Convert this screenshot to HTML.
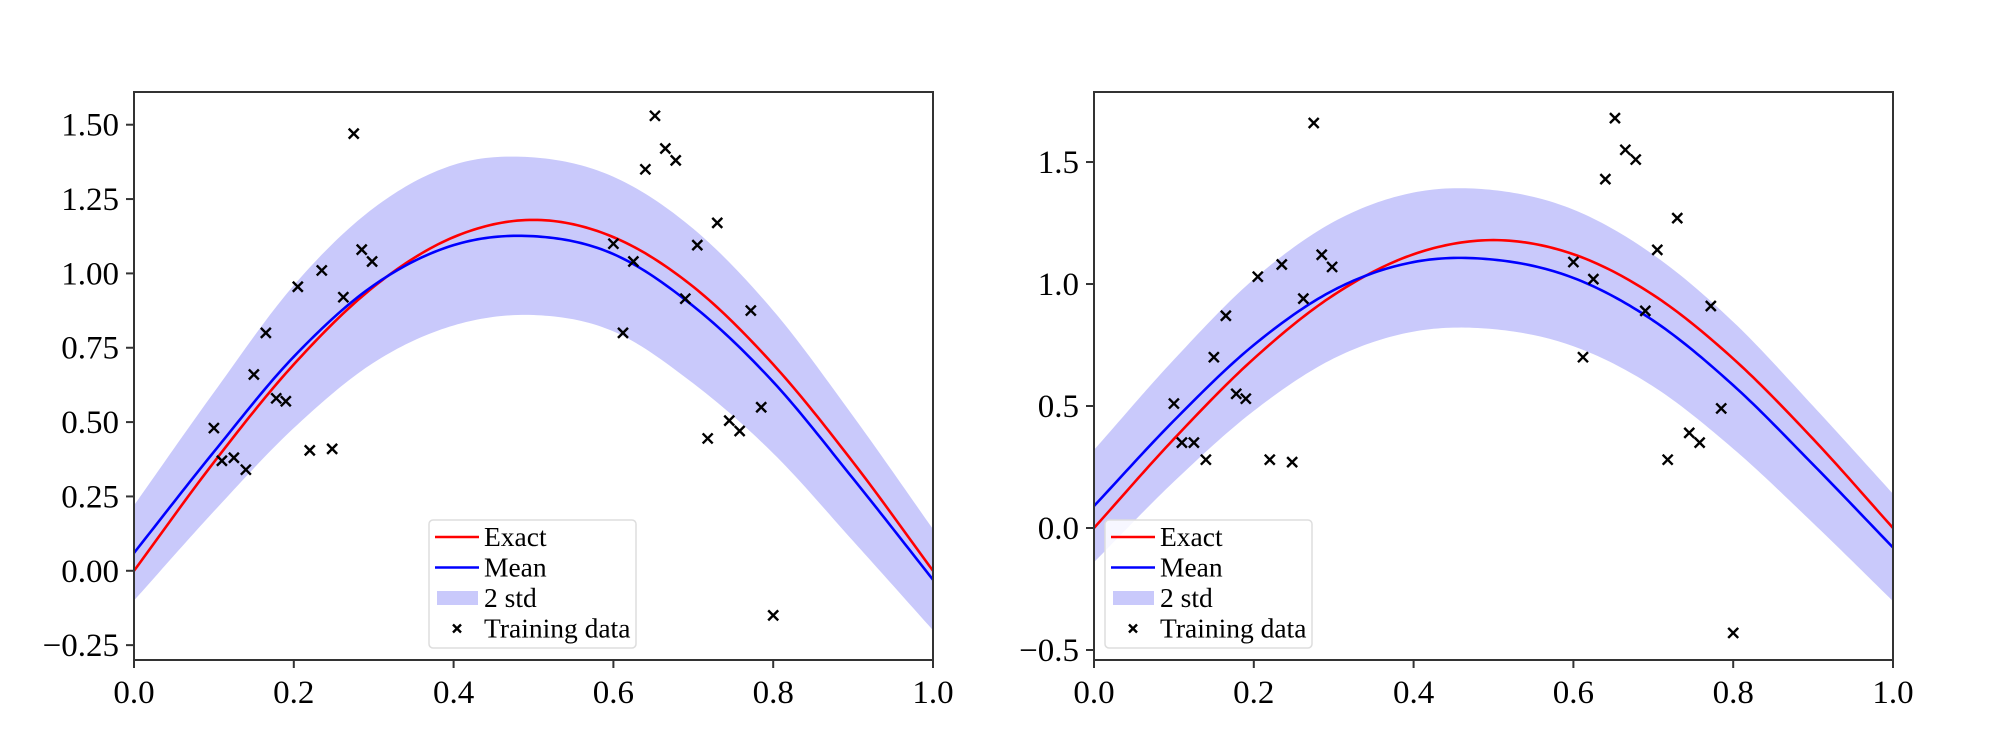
<!DOCTYPE html>
<html><head><meta charset="utf-8">
<style>
html,body{margin:0;padding:0;background:#fff;}
svg{display:block;}
text{font-family:"Liberation Serif","DejaVu Serif",serif;fill:#000;}
</style></head>
<body>
<svg id="chart" width="2000" height="742" viewBox="0 0 2000 742" xmlns="http://www.w3.org/2000/svg"></svg>
<script>
const gridX = [0,0.1,0.2,0.3,0.4,0.5,0.6,0.7,0.8,0.9,1.0];
const exactY = [0,0.365,0.694,0.955,1.122,1.18,1.122,0.955,0.694,0.365,0];
const leftMean = [0.06,0.40,0.72,0.96,1.095,1.125,1.065,0.89,0.635,0.31,-0.03];
const leftStd2 = [0.16,0.20,0.24,0.26,0.27,0.265,0.26,0.26,0.24,0.21,0.17];
const rightMean = [0.09,0.44,0.75,0.975,1.09,1.10,1.025,0.85,0.585,0.26,-0.08];
const rightStd2 = [0.23,0.25,0.27,0.28,0.285,0.285,0.28,0.27,0.26,0.24,0.22];
const trainX = [0.1,0.11,0.125,0.14,0.15,0.165,0.178,0.19,0.205,0.22,0.235,0.248,0.262,0.275,0.285,0.298,0.6,0.612,0.625,0.64,0.652,0.665,0.678,0.69,0.705,0.718,0.73,0.745,0.758,0.772,0.785,0.8];
const leftTrainY = [0.48,0.37,0.38,0.34,0.66,0.80,0.58,0.57,0.955,0.405,1.01,0.41,0.92,1.47,1.08,1.04,1.10,0.80,1.04,1.35,1.53,1.42,1.38,0.915,1.095,0.445,1.17,0.505,0.47,0.875,0.55,-0.15];
const rightTrainY = [0.51,0.35,0.35,0.28,0.70,0.87,0.55,0.53,1.03,0.28,1.08,0.27,0.94,1.66,1.12,1.07,1.09,0.70,1.02,1.43,1.68,1.55,1.51,0.89,1.14,0.28,1.27,0.39,0.35,0.91,0.49,-0.43];
const xTicks = [0,0.2,0.4,0.6,0.8,1.0];
const xTickLabels = ["0.0","0.2","0.4","0.6","0.8","1.0"];
const leftYTicks = [-0.25,0,0.25,0.5,0.75,1.0,1.25,1.5];
const leftYTickLabels = ["\u22120.25","0.00","0.25","0.50","0.75","1.00","1.25","1.50"];
const rightYTicks = [-0.5,0,0.5,1.0,1.5];
const rightYTickLabels = ["\u22120.5","0.0","0.5","1.0","1.5"];

const NS = "http://www.w3.org/2000/svg";
const svg = document.getElementById('chart');
function mk(tag, attrs, parent){
  const e = document.createElementNS(NS, tag);
  for (const k in attrs) e.setAttribute(k, attrs[k]);
  (parent||svg).appendChild(e);
  return e;
}
function interp(xs, ys, x){
  let i = Math.min(xs.length-2, Math.max(0, Math.floor((x - xs[0])/(xs[1]-xs[0]))));
  const t = (x - xs[i])/(xs[i+1]-xs[i]);
  const p0 = ys[Math.max(0,i-1)], p1 = ys[i], p2 = ys[i+1], p3 = ys[Math.min(ys.length-1,i+2)];
  const m1 = (p2 - p0)/ (i===0?1:2), m2 = (p3 - p1)/(i+1===ys.length-1?1:2);
  const t2=t*t, t3=t2*t;
  return (2*t3-3*t2+1)*p1 + (t3-2*t2+t)*m1 + (-2*t3+3*t2)*p2 + (t3-t2)*m2;
}
function panel(name, L, R, T, B, yMin, yMax, mean, std2, trainY, yTicks, yLabels, legX){
  const g = mk('g', {});
  
  
  const sx = v => L + (v-0)/(1-0)*(R-L);
  const sy = v => B - (v-yMin)/(yMax-yMin)*(B-T);
  const N = 200;
  let up=[], lo=[], ex=[], mn=[];
  for (let k=0;k<=N;k++){
    const x = k/N;
    const m = interp(gridX, mean, x), s = interp(gridX, std2, x);
    up.push(sx(x)+','+sy(m+s)); lo.push(sx(x)+','+sy(m-s));
    ex.push(sx(x)+','+sy(interp(gridX, exactY, x)));
    mn.push(sx(x)+','+sy(m));
  }
  const clip = mk('clipPath', {id: name+'-clip'}, g);
  mk('rect', {x:L, y:T, width:R-L, height:B-T}, clip);
  const band = mk('polygon', {points: up.concat(lo.reverse()).join(' '), fill:'#c9c9fb', 'clip-path':'url(#'+name+'-clip)'}, g);
  
  
  const el = mk('polyline', {points: ex.join(' '), fill:'none', stroke:'#ff0000', 'stroke-width':2.6}, g);
  
  
  const ml = mk('polyline', {points: mn.join(' '), fill:'none', stroke:'#0000ff', 'stroke-width':2.6}, g);
  
  
  for (let i=0;i<trainX.length;i++){
    const cx = sx(trainX[i]), cy = sy(trainY[i]), d=5;
    const p = mk('path', {d:`M${cx-d},${cy-d}L${cx+d},${cy+d}M${cx-d},${cy+d}L${cx+d},${cy-d}`, stroke:'#000', 'stroke-width':2.4}, g);
    
    
  }
  const frame = mk('rect', {x:L, y:T, width:R-L, height:B-T, fill:'none', stroke:'#333', 'stroke-width':2}, g);
  
  
  for (let i=0;i<xTicks.length;i++){
    const x = sx(xTicks[i]);
    mk('line', {x1:x, x2:x, y1:B, y2:B+8, stroke:'#333', 'stroke-width':2}, g);
    const t = mk('text', {x:x, y:B+43, 'font-size':33, 'text-anchor':'middle'}, g);
    t.textContent = xTickLabels[i];
    
    
  }
  for (let i=0;i<yTicks.length;i++){
    const y = sy(yTicks[i]);
    mk('line', {x1:L-8, x2:L, y1:y, y2:y, stroke:'#333', 'stroke-width':2}, g);
    const t = mk('text', {x:L-15, y:y+11, 'font-size':33, 'text-anchor':'end'}, g);
    t.textContent = yLabels[i];
    
    
  }
  const lg = mk('g', {}, g);
  
  
  const lt = 520;
  mk('rect', {x:legX, y:lt, width:207, height:128, rx:4, fill:'#fff', 'fill-opacity':0.85, stroke:'#ddd', 'stroke-width':1.5}, lg);
  const rows = [['Exact','line','#ff0000'],['Mean','line','#0000ff'],['2 std','patch','#c9c9fb'],['Training data','marker','#000']];
  rows.forEach((r,i)=>{
    const cy = lt + 17 + i*30.5;
    const e = mk('g', {}, lg);
    
    
    if (r[1]==='line') mk('line', {x1:legX+6, x2:legX+50, y1:cy, y2:cy, stroke:r[2], 'stroke-width':2.6}, e);
    else if (r[1]==='patch') mk('rect', {x:legX+8, y:cy-7, width:41, height:14, fill:r[2]}, e);
    else { const c=legX+28, d=4; mk('path', {d:`M${c-d},${cy-d}L${c+d},${cy+d}M${c-d},${cy+d}L${c+d},${cy-d}`, stroke:'#000','stroke-width':2.4}, e); }
    const t = mk('text', {x:legX+55, y:cy+9, 'font-size':27.5}, e);
    t.textContent = r[0];
  });
}
panel('left-panel', 134, 933, 92, 660, -0.30, 1.61, leftMean, leftStd2, leftTrainY, leftYTicks, leftYTickLabels, 429);
panel('right-panel', 1094, 1893, 92, 660, -0.541, 1.787, rightMean, rightStd2, rightTrainY, rightYTicks, rightYTickLabels, 1105);
</script>
</body></html>
